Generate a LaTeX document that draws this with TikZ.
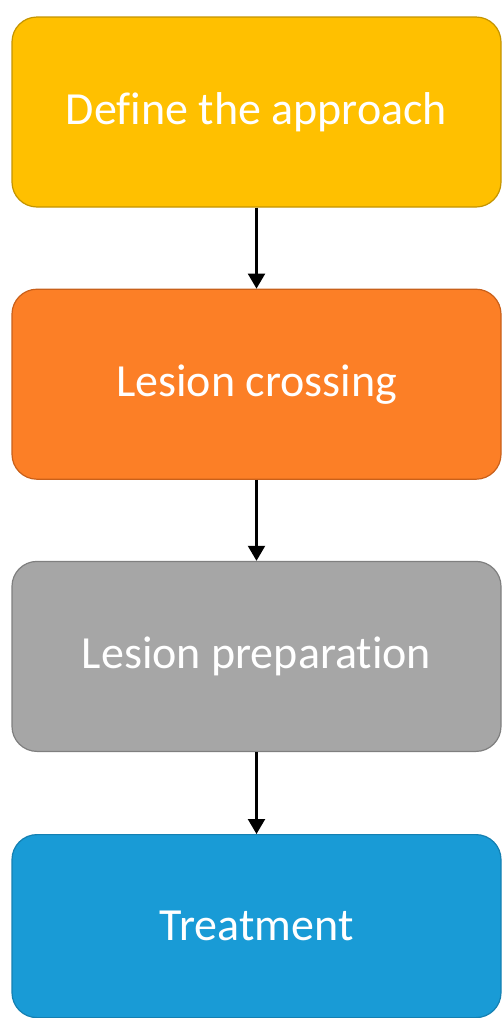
\documentclass[tikz,border=0pt]{standalone}
\usepackage{fontspec}
\setmainfont{Carlito}[Ligatures=NoCommon]
\usetikzlibrary{positioning, arrows.meta}
\definecolor{stepyellow}{HTML}{FFC000}
\definecolor{stepyellowline}{HTML}{C49400}
\definecolor{steporange}{HTML}{FC7F26}
\definecolor{steporangeline}{HTML}{C9601A}
\definecolor{stepgray}{HTML}{A6A6A6}
\definecolor{stepgrayline}{HTML}{7F7F7F}
\definecolor{stepblue}{HTML}{199BD6}
\definecolor{stepblueline}{HTML}{1480B2}
\tikzset{
	stepbox/.style={rectangle, rounded corners=25pt, line width=1.2pt,
		minimum width=489pt, minimum height=190pt, inner sep=0pt,
		font=\fontsize{46}{50}\selectfont\color{white}}
}
\tikzset{
	steparrow/.style={line width=2.2pt, -{Triangle[width=17pt,length=15pt]}}
}

\begin{document}
\begin{tikzpicture}[x=1pt, y=1pt]
      \useasboundingbox (0,0) rectangle (502,-1018);
      \node[stepbox, fill=stepyellow, draw=stepyellowline] (approach) at (256.5,-112) {Define the approach};
      \node[stepbox, fill=steporange, draw=steporangeline, below=81pt of approach] (crossing) {Lesion crossing};
      \node[stepbox, fill=stepgray, draw=stepgrayline, below=81pt of crossing] (preparation) {Lesion preparation};
      % last box sits a little lower and is cut short by the page edge
      \node[stepbox, fill=stepblue, draw=stepblueline, minimum height=183pt, below=82pt of preparation] (treatment) {Treatment};
      \draw[steparrow] (approach) -- (crossing);
      \draw[steparrow] (crossing) -- (preparation);
      \draw[steparrow] (preparation) -- (treatment);
    \end{tikzpicture}
\end{document}
